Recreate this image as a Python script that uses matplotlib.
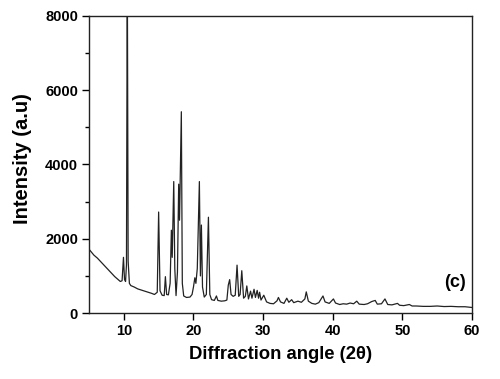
import matplotlib
matplotlib.use("Agg")
import matplotlib.pyplot as plt
from matplotlib.ticker import MultipleLocator

plt.rcParams['font.family'] = ['Liberation Sans', 'DejaVu Sans']

# XRD trace vertices (2theta, intensity)
two_theta = [
    5.0, 5.3, 5.7, 6.2, 6.7, 7.2, 7.7, 8.2, 8.7, 9.2, 9.5, 9.75, 9.95, 10.1, 10.25,
    10.38, 10.5, 10.62, 10.8, 11.0, 11.5, 12.0, 12.5, 13.0, 13.5, 14.0, 14.4, 14.8,
    15.0, 15.2, 15.5, 15.8, 15.97, 16.15, 16.4, 16.65, 16.83, 16.95, 17.17, 17.32,
    17.5, 17.7, 17.88, 18.0, 18.26, 18.4, 18.6, 19.0, 19.5, 19.8, 20.0, 20.2, 20.35,
    20.55, 20.85, 21.0, 21.14, 21.3, 21.55, 21.85, 22.15, 22.35, 22.6, 23.0, 23.3,
    23.5, 24.0, 24.5, 24.8, 25.0, 25.2, 25.4, 25.7, 26.0, 26.26, 26.5, 26.7, 26.94,
    27.2, 27.45, 27.66, 27.9, 28.2, 28.4, 28.7, 28.9, 29.15, 29.35, 29.5, 29.7, 30.1,
    30.5, 31.0, 31.5, 32.0, 32.2, 32.5, 33.0, 33.4, 33.7, 34.1, 34.4, 35.0, 35.5,
    36.0, 36.2, 36.5, 37.0, 37.5, 38.0, 38.6, 38.9, 39.5, 40.1, 40.4, 41.0, 41.5,
    42.0, 42.5, 43.0, 43.45, 43.8, 44.5, 45.0, 45.6, 46.1, 46.4, 47.0, 47.5, 47.9,
    48.5, 49.3, 49.6, 50.2, 51.0, 51.4, 52.0, 53.0, 54.0, 55.0, 56.0, 57.0, 58.0,
    59.0, 60.0,
]
intensity = [
    1720, 1650, 1560, 1480, 1380, 1280, 1180, 1080, 980, 900, 850, 870, 1500, 900, 850,
    1300, 9500, 1400, 800, 740, 700, 650, 620, 590, 560, 530, 500, 560,
    2720, 600, 480, 470, 980, 500, 490, 800, 2230, 1500, 3540, 1200,
    470, 1100, 3470, 2500, 5420, 800, 460, 420, 430, 500, 700, 950, 800,
    1200, 3540, 1000, 2370, 700, 430, 500, 2580, 500, 360, 340, 460,
    340, 320, 330, 350, 750, 900, 500, 450, 480, 1290, 450, 500, 1140,
    400, 450, 730, 380, 590, 400, 640, 420, 610, 400, 560, 350, 480,
    300, 260, 250, 330, 420, 300, 260, 400, 290, 360, 280, 320, 290,
    380, 570, 320, 260, 240, 280, 460, 300, 260, 380, 270, 230, 250,
    240, 270, 250, 320, 240, 230, 250, 310, 340, 240, 250, 380, 230,
    220, 260, 210, 200, 230, 190, 190, 180, 180, 190, 175, 180, 170,
    170, 150,
]

x_ticks = [10, 20, 30, 40, 50, 60]
y_ticks = [0, 2000, 4000, 6000, 8000]

fig = plt.figure(figsize=(5.0, 3.79), dpi=100)
ax = fig.add_axes([0.178, 0.174, 0.766, 0.784])

ax.plot(two_theta, intensity, color='#222222', lw=0.9)

ax.set_xlim(5, 60)
ax.set_ylim(0, 8000)
ax.set_xticks(x_ticks)
ax.set_yticks(y_ticks)
ax.yaxis.set_minor_locator(MultipleLocator(1000))
ax.tick_params(axis='both', which='major', direction='out', length=5, width=1,
               labelsize=10.5, pad=3)
ax.tick_params(axis='y', which='minor', direction='out', length=3, width=1)
for lab in ax.get_xticklabels() + ax.get_yticklabels():
    lab.set_fontweight('bold')
for s in ax.spines.values():
    s.set_linewidth(1)
    s.set_color('#222222')

ax.set_xlabel('Diffraction angle (2θ)', fontsize=13.3, fontweight='bold', labelpad=6)
ax.set_ylabel('Intensity (a.u)', fontsize=14.5, fontweight='bold', labelpad=9)
ax.yaxis.label.set_y(0.52)
ax.text(0.985, 0.075, '(c)', transform=ax.transAxes, fontsize=13,
        fontweight='bold', ha='right', va='bottom')

fig.savefig('out.png', dpi=100)
